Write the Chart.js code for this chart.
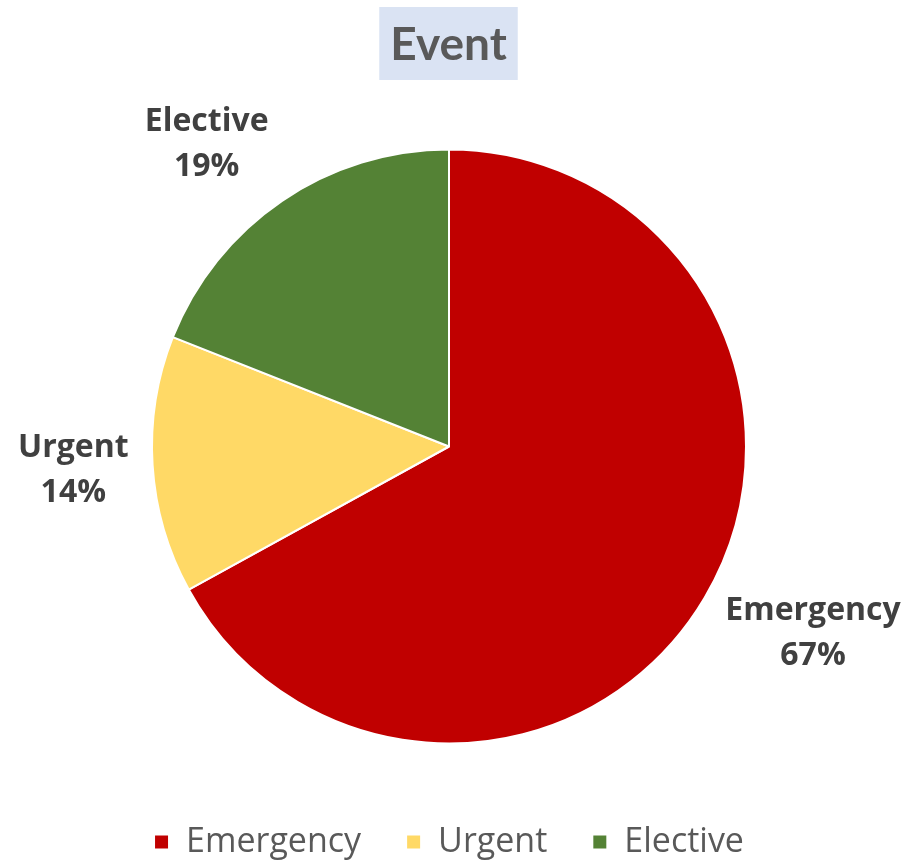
<!DOCTYPE html>
<html>
<head>
<meta charset="utf-8">
<script src="https://cdn.jsdelivr.net/npm/chart.js@4"></script>
<style>
  html, body { margin: 0; padding: 0; background: #fff; }
  #wrap { width: 917px; height: 865px; }
</style>
</head>
<body>
<div id="wrap"><canvas id="chart"></canvas></div>
<script>
const titleText = 'Event';
const categories = ['Emergency', 'Urgent', 'Elective'];
const shares = [67, 14, 19];
const sliceColors = ['#c00000', '#ffd966', '#548235'];

// title with the pale blue box behind it
const titleBox = {
  id: 'titleBox',
  afterDraw(chart) {
    const ctx = chart.ctx;
    ctx.save();
    ctx.font = 'bold 46px Lato';
    const w = ctx.measureText(titleText).width + 22;
    const cx = 448.5;
    ctx.fillStyle = '#dae3f3';
    ctx.fillRect(cx - w / 2, 7, w, 73);
    ctx.fillStyle = '#595959';
    ctx.textAlign = 'center';
    ctx.textBaseline = 'middle';
    ctx.fillText(titleText, cx, 45);
    ctx.restore();
  }
};

// category + percent outside each slice
const outsideLabels = {
  id: 'outsideLabels',
  afterDatasetsDraw(chart) {
    const ctx = chart.ctx;
    const meta = chart.getDatasetMeta(0);
    const total = shares.reduce((a, b) => a + b, 0);
    ctx.save();
    ctx.font = 'bold 32px "Open Sans"';
    ctx.fillStyle = '#404040';
    ctx.textAlign = 'center';
    ctx.textBaseline = 'middle';
    meta.data.forEach((arc, i) => {
      const mid = (arc.startAngle + arc.endAngle) / 2;
      const d = arc.outerRadius + 24;
      const ax = arc.x + Math.cos(mid) * d;
      const ay = arc.y + Math.sin(mid) * d;
      const line2 = Math.round(shares[i] / total * 100) + '%';
      const w = Math.max(ctx.measureText(categories[i]).width, ctx.measureText(line2).width);
      const h = 90;
      let cx = ax + Math.sign(Math.cos(mid)) * w / 2;
      const cy = ay + Math.sin(mid) * h / 2;
      ctx.fillText(categories[i], cx, cy - 22);
      ctx.fillText(line2, cx, cy + 23);
    });
    ctx.restore();
  }
};

new Chart(document.getElementById('chart'), {
  type: 'pie',
  data: {
    labels: categories,
    datasets: [{
      data: shares,
      backgroundColor: sliceColors,
      borderColor: '#ffffff',
      borderWidth: 2,
      hoverOffset: 0
    }]
  },
  options: {
    responsive: true,
    maintainAspectRatio: false,
    animation: false,
    radius: 297,
    layout: { padding: { top: 113, left: 0, right: 19, bottom: -4 } },
    plugins: {
      title: { display: false },
      tooltip: { enabled: false },
      legend: {
        position: 'bottom',
        labels: {
          font: { family: '"Open Sans"', size: 34 },
          color: '#595959',
          boxWidth: 15,
          boxHeight: 15,
          padding: 45
        }
      }
    }
  },
  plugins: [titleBox, outsideLabels]
});
</script>
</body>
</html>
